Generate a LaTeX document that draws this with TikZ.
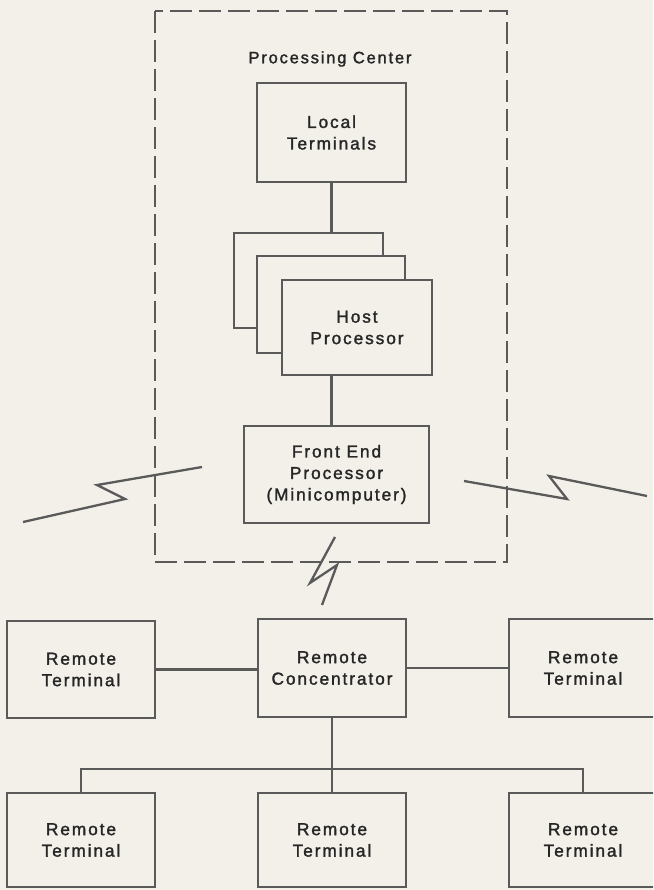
\documentclass[tikz,border=0pt]{standalone}
\usepackage{fontspec}
\setmainfont{Liberation Sans}[LetterSpace=11, FakeBold=1.6]
\definecolor{paper}{HTML}{F2F0E9}
\definecolor{ink}{HTML}{5A5A5A}
\definecolor{txt}{HTML}{262626}
\begin{document}
\begin{tikzpicture}[x=1pt,y=-1pt,
  box/.style={draw=ink, line width=2.6pt, fill=paper, inner sep=0pt,
    align=center, text=txt, font=\fontsize{17.3}{21.5}\selectfont},
  wire/.style={draw=ink, line width=2.5pt},
  bolt/.style={draw=ink, line width=2.3pt, line join=miter},
  frame/.style={draw=ink, line width=2pt, dash pattern=on 22pt off 7pt},
  lbl/.style={text=txt, font=\fontsize{16.5}{21.5}\selectfont, inner sep=0pt}]
\fill[paper] (0,0) rectangle (653,890);
\useasboundingbox (0,0) rectangle (653,890);
\clip (0,0) rectangle (653,890);

% processing center frame
\coordinate (pcTL) at (155,11);
\coordinate (pcBR) at (507,562);
\draw[frame] (pcTL) rectangle (pcBR);
\node[lbl] (pc) at (330,59) {Processing Center};

% nodes
\node[box, minimum width=149pt, minimum height=99pt] (lt) at (331.5,132.5) {Local\\Terminals};
\node[box, minimum width=149pt, minimum height=95pt] (h1) at (308.5,280.5) {};
\node[box, minimum width=148pt, minimum height=97pt] (h2) at (331,304.5) {};
\node[box, minimum width=150pt, minimum height=95pt] (h3) at (357,327.5) {Host\\Processor};
\node[box, minimum width=185pt, minimum height=97pt] (fe) at (336.5,474.5) {Front End\\Processor\\(Minicomputer)};

\node[box, minimum width=148pt, minimum height=97pt] (rt1) at (81,669.5) {Remote\\Terminal};
\node[box, minimum width=148pt, minimum height=98pt] (rc) at (332,668) {Remote\\Concentrator};
\node[box, minimum width=148pt, minimum height=98pt] (rt2) at (583,668) {Remote\\Terminal};
\node[box, minimum width=148pt, minimum height=94pt] (rt3) at (81,840) {Remote\\Terminal};
\node[box, minimum width=148pt, minimum height=94pt] (rt4) at (332,840) {Remote\\Terminal};
\node[box, minimum width=148pt, minimum height=94pt] (rt5) at (583,840) {Remote\\Terminal};

% connectors
\draw[wire] (lt.south) -- (lt.south |- h1.north);
\draw[wire] (lt.south |- h3.south) -- (lt.south |- fe.north);
\draw[wire] (rt1.east) -- (rt1.east -| rc.west);
\draw[wire] (rc.east) -- (rc.east -| rt2.west);
\draw[wire] (rc.south) -- (rc.south |- rt4.north);
\coordinate (bus) at (332,769);
\draw[wire] (rt3.north) |- (bus) -| (rt5.north);

% communication links (lightning symbols)
\draw[bolt] (23,522) -- (125,499) -- (97,485) -- (202,467);
\draw[bolt] (464,481) -- (567,499) -- (549,476) -- (647,496);
\draw[bolt] (335,537) -- (310,583) -- (337,565) -- (322,605);
\end{tikzpicture}
\end{document}
